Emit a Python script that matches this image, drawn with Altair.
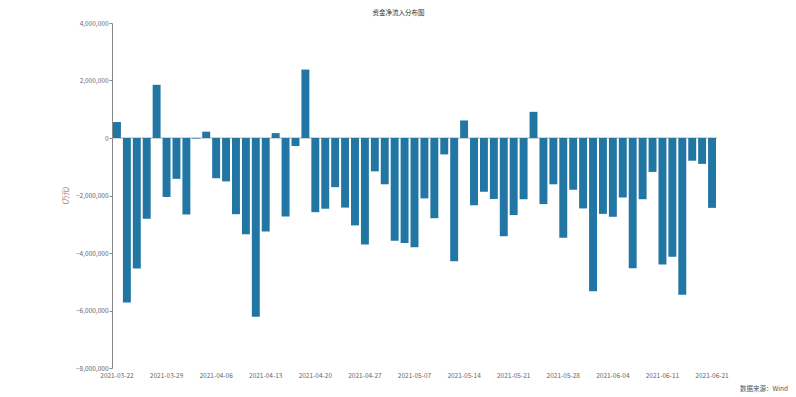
import altair as alt
import pandas as pd

dates = [
    "2021-03-22", "2021-03-23", "2021-03-24", "2021-03-25", "2021-03-26",
    "2021-03-29", "2021-03-30", "2021-03-31", "2021-04-01", "2021-04-02",
    "2021-04-06", "2021-04-07", "2021-04-08", "2021-04-09", "2021-04-12",
    "2021-04-13", "2021-04-14", "2021-04-15", "2021-04-16", "2021-04-19",
    "2021-04-20", "2021-04-21", "2021-04-22", "2021-04-23", "2021-04-26",
    "2021-04-27", "2021-04-28", "2021-04-29", "2021-04-30", "2021-05-06",
    "2021-05-07", "2021-05-10", "2021-05-11", "2021-05-12", "2021-05-13",
    "2021-05-14", "2021-05-17", "2021-05-18", "2021-05-19", "2021-05-20",
    "2021-05-21", "2021-05-24", "2021-05-25", "2021-05-26", "2021-05-27",
    "2021-05-28", "2021-05-31", "2021-06-01", "2021-06-02", "2021-06-03",
    "2021-06-04", "2021-06-07", "2021-06-08", "2021-06-09", "2021-06-10",
    "2021-06-11", "2021-06-15", "2021-06-16", "2021-06-17", "2021-06-18",
    "2021-06-21",
]

net_inflow = [
    555000, -5720000, -4540000, -2810000, 1850000,
    -2050000, -1420000, -2660000, -20000, 220000,
    -1400000, -1510000, -2650000, -3350000, -6220000,
    -3250000, 170000, -2730000, -280000, 2380000,
    -2580000, -2460000, -1710000, -2420000, -3040000,
    -3700000, -1160000, -1610000, -3570000, -3650000,
    -3800000, -2100000, -2790000, -570000, -4290000,
    610000, -2340000, -1870000, -2120000, -3420000,
    -2680000, -2130000, 910000, -2300000, -1610000,
    -3470000, -1800000, -2450000, -5330000, -2640000,
    -2740000, -2070000, -4530000, -2130000, -1180000,
    -4400000, -4130000, -5450000, -790000, -900000,
    -2430000,
]

tick_dates = [
    "2021-03-22", "2021-03-29", "2021-04-06", "2021-04-13", "2021-04-20",
    "2021-04-27", "2021-05-07", "2021-05-14", "2021-05-21", "2021-05-28",
    "2021-06-04", "2021-06-11", "2021-06-21",
]

y_ticks = [4000000, 2000000, 0, -2000000, -4000000, -6000000, -8000000]

title_text = "资金净流入分布图"
y_title = "(万元)"
source_text = "数据来源：Wind"

FONT = "Noto Sans CJK SC"

df = pd.DataFrame({"date": dates, "value": net_inflow})

x_enc = alt.X(
    "date:N",
    sort=dates,
    scale=alt.Scale(paddingInner=0.2, paddingOuter=0.1),
    axis=alt.Axis(
        values=tick_dates,
        labelAngle=0,
        title=None,
        domain=False,
        ticks=False,
        labelFontSize=6.5,
        labelColor="#666666",
        labelFont=FONT,
        labelPadding=4,
    ),
)

y_scale = alt.Scale(domain=[-8000000, 4000000], nice=False, zero=False)

bars = alt.Chart(df).mark_bar(color="#2176a3").encode(
    x=x_enc,
    y=alt.Y(
        "value:Q",
        scale=y_scale,
        axis=alt.Axis(
            values=y_ticks,
            format=",d",
            title=y_title,
            titleFont=FONT,
            titleFontSize=6.5,
            titleFontWeight="normal",
            titleColor="#666666",
            titleX=-44,
            titleY=172,
            labelFontSize=6.5,
            labelColor="#666666",
            labelFont=FONT,
            domainColor="#888888",
            tickColor="#888888",
            tickSize=3,
            labelPadding=1,
            grid=False,
        ),
    ),
)

zero_line = alt.Chart(pd.DataFrame({"z": [0]})).mark_rule(
    color="#aaaaaa", strokeWidth=1
).encode(y=alt.Y("z:Q", scale=y_scale))

source = alt.Chart(pd.DataFrame({"t": [source_text]})).mark_text(
    align="right", baseline="middle", fontSize=6.5, font=FONT, color="#555555"
).encode(
    text="t:N",
    x=alt.value(676),
    y=alt.value(366),
)

chart = (
    alt.layer(zero_line, bars, source)
    .properties(
        width=605,
        height=345,
        background="white",
        title=alt.TitleParams(
            title_text,
            fontSize=6.5,
            font=FONT,
            fontWeight="normal",
            color="#333333",
            anchor="middle",
            dx=-16,
            offset=4,
        ),
        autosize=alt.AutoSizeParams(type="none"),
        padding={"left": 104, "top": 15, "right": 71, "bottom": 30},
    )
    .configure_view(strokeWidth=0, stroke=None)
)

chart.save("out.html", embed_options={"renderer": "svg", "actions": False})
